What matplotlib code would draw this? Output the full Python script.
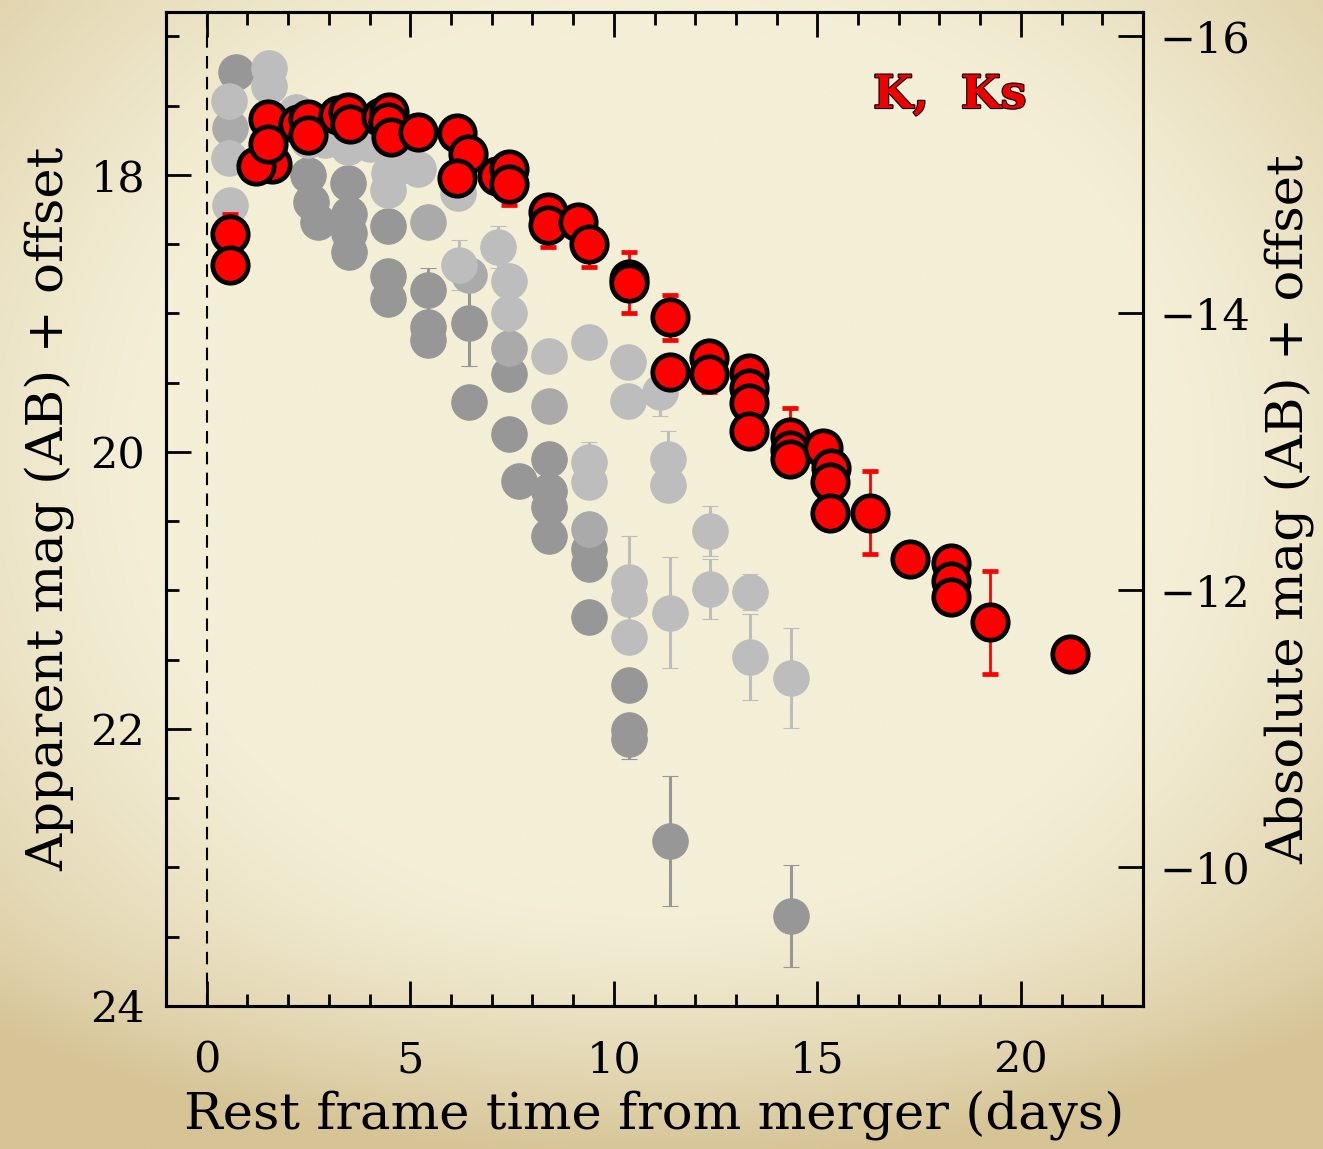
import numpy as np
import matplotlib
matplotlib.use("Agg")
import matplotlib.pyplot as plt
from matplotlib.ticker import MultipleLocator, FixedLocator
import matplotlib.patheffects as pe

# ---------------- data ----------------
ABS_OFFSET = 33.0  # absolute = apparent - offset

# K / Ks band (red)
t_K = [1.60, 0.57, 0.57, 1.22, 1.51, 1.51, 2.24, 2.49, 2.49, 3.22, 3.47, 3.51,
       4.28, 4.48, 4.45, 4.53, 5.18, 6.16, 6.41, 6.16, 7.12, 7.43, 7.42, 8.38,
       8.38, 9.13, 9.38, 10.37, 10.37, 11.38, 11.37, 12.34, 12.34, 13.31, 13.31,
       13.31, 13.31, 14.32, 14.32, 14.32, 15.13, 15.33, 15.30, 15.30, 16.29,
       17.28, 18.28, 18.28, 18.28, 19.25, 21.21]
m_K = [17.92, 18.43, 18.65, 17.94, 17.60, 17.78, 17.63, 17.60, 17.71, 17.57, 17.55, 17.63,
       17.58, 17.55, 17.62, 17.73, 17.69, 17.70, 17.85, 18.02, 18.01, 17.96, 18.07, 18.27,
       18.36, 18.34, 18.50, 18.75, 18.78, 19.03, 19.42, 19.32, 19.44, 19.43, 19.54,
       19.65, 19.85, 19.89, 19.99, 20.05, 19.97, 20.12, 20.22, 20.44, 20.44,
       20.77, 20.80, 20.93, 21.05, 21.23, 21.46]
e_K = [0.12, 0.15, 0.08, 0.08, 0.06, 0.06, 0.06, 0.06, 0.06, 0.06, 0.06, 0.06,
       0.06, 0.06, 0.06, 0.06, 0.06, 0.06, 0.06, 0.06, 0.08, 0.08, 0.15, 0.08,
       0.16, 0.08, 0.165, 0.10, 0.22, 0.16, 0.08, 0.08, 0.13, 0.08, 0.08,
       0.08, 0.08, 0.21, 0.08, 0.08, 0.08, 0.08, 0.08, 0.08, 0.30,
       0.08, 0.08, 0.08, 0.08, 0.37, 0.06]

# other bands, light grey
t_light = [0.54, 0.54, 0.56, 1.52, 1.52, 2.20, 2.50, 2.90, 3.47, 4.00, 4.45, 4.48,
           4.77, 5.19, 6.17, 6.19, 7.15, 7.43, 7.43, 8.40, 9.38, 10.36, 10.36, 11.14,
           9.38, 9.38, 11.33, 11.33, 10.38, 10.38, 10.38, 11.38, 12.37, 12.37,
           13.34, 13.34, 14.35]
m_light = [17.47, 17.88, 18.22, 17.23, 17.36, 17.55, 17.75, 17.75, 17.80, 17.78, 18.11, 17.99,
           17.94, 17.96, 18.13, 18.65, 18.52, 18.77, 19.00, 19.31, 19.21, 19.35, 19.63, 19.57,
           20.07, 20.22, 20.05, 20.24, 20.94, 21.06, 21.34, 21.16, 20.57, 20.99,
           21.01, 21.48, 21.63]
e_light = [0.05, 0.05, 0.09, 0.05, 0.05, 0.05, 0.05, 0.05, 0.05, 0.05, 0.05, 0.05,
           0.05, 0.05, 0.05, 0.18, 0.15, 0.05, 0.05, 0.05, 0.05, 0.05, 0.05, 0.17,
           0.14, 0.05, 0.20, 0.05, 0.33, 0.05, 0.05, 0.40, 0.18, 0.22,
           0.13, 0.31, 0.36]

# other bands, mid grey
t_mid = [0.56, 5.43, 6.44, 7.43, 8.40, 9.38]
m_mid = [17.66, 18.34, 18.72, 19.25, 19.67, 20.56]
e_mid = [0.05, 0.05, 0.05, 0.05, 0.05, 0.05]

# other bands, dark grey
t_dark = [0.73, 2.50, 2.57, 2.74, 3.47, 3.50, 3.50, 3.50, 4.45, 4.45, 4.45, 5.43,
          5.43, 5.43, 6.44, 6.44, 7.43, 7.43, 7.67, 8.40, 8.40, 8.40, 8.40, 9.38,
          9.38, 9.38, 10.38, 10.38, 10.38, 11.38, 14.35]
m_dark = [17.26, 18.00, 18.20, 18.34, 18.06, 18.28, 18.42, 18.56, 18.37, 18.73, 18.90, 18.83,
          19.10, 19.19, 19.07, 19.64, 19.44, 19.87, 20.21, 20.05, 20.28, 20.40, 20.61, 20.70,
          20.81, 21.19, 21.68, 22.01, 22.07, 22.81, 23.35]
e_dark = [0.05, 0.05, 0.05, 0.05, 0.05, 0.05, 0.05, 0.05, 0.05, 0.05, 0.05, 0.16,
          0.05, 0.05, 0.31, 0.05, 0.05, 0.05, 0.05, 0.05, 0.05, 0.05, 0.05, 0.05,
          0.05, 0.05, 0.05, 0.05, 0.15, 0.47, 0.37]

band_label = "K,  Ks"
xlabel = "Rest frame time from merger (days)"
ylabel_left = "Apparent mag (AB) + offset"
ylabel_right = "Absolute mag (AB) + offset"

# ---------------- figure ----------------
W, H = 1323, 1149
DPI = 100
fig = plt.figure(figsize=(W / DPI, H / DPI), dpi=DPI)

# parchment background (decoration)
bg = fig.add_axes([0, 0, 1, 1], zorder=-10)
ny, nx = 240, 276
yy, xx = np.mgrid[0:1:ny * 1j, 0:1:nx * 1j]
r = np.sqrt(((xx - 0.5) / 0.62) ** 2 + ((yy - 0.40) / 0.62) ** 2)
w = np.clip((r - 0.62) / 0.6, 0, 1) ** 1.3
w = np.clip(w + 0.45 * np.clip((yy - 0.78) / 0.22, 0, 1) ** 1.6, 0, 1)
c_in = np.array([244, 239, 215]) / 255.0
c_out = np.array([214, 196, 150]) / 255.0
img = c_in[None, None, :] * (1 - w[..., None]) + c_out[None, None, :] * w[..., None]
bg.imshow(img, extent=[0, 1, 0, 1], aspect='auto', origin='upper', interpolation='bicubic')
bg.set_axis_off()

ax = fig.add_axes([166 / W, 1 - 1006 / H, (1143 - 166) / W, (1006 - 12) / H])
ax.set_facecolor('none')

serif = ['DejaVu Serif']

ax.axvline(0, color='black', lw=1.5, ls=(0, (6, 4)), zorder=1)

ms = 25.5
for t, m, e, col in [(t_dark, m_dark, e_dark, '#979797'),
                     (t_mid, m_mid, e_mid, '#aaaaaa'),
                     (t_light, m_light, e_light, '#bdbdbd')]:
    ax.errorbar(t, m, yerr=e, fmt='o', ms=ms, mfc=col, mec=col, mew=0.8,
                ecolor=col, elinewidth=2.2, capsize=6, capthick=2.2, zorder=2)

ax.errorbar(t_K, m_K, yerr=e_K, fmt='o', ms=ms, mfc='#ff0000', mec='black', mew=3.4,
            ecolor='#ff0000', elinewidth=2.0, capsize=6, capthick=2.0, zorder=5)

ax.set_xlim(-1, 23)
ax.set_ylim(24, 16.825)

ax.xaxis.set_major_locator(FixedLocator([0, 5, 10, 15, 20]))
ax.xaxis.set_minor_locator(MultipleLocator(1))
ax.yaxis.set_major_locator(MultipleLocator(2))
ax.yaxis.set_minor_locator(MultipleLocator(0.5))

ax.tick_params(which='both', direction='in', top=True, right=True, width=2, color='black')
ax.tick_params(which='major', length=18)
ax.tick_params(which='minor', length=9)
ax.tick_params(axis='x', which='major', pad=24, labelsize=31)
ax.tick_params(axis='y', which='major', pad=15, labelsize=31)
for lab in ax.get_xticklabels() + ax.get_yticklabels():
    lab.set_family(serif)

for s in ax.spines.values():
    s.set_linewidth(2.2)

ax.set_xlabel(xlabel, fontsize=37, family=serif, labelpad=6)
ax.set_ylabel(ylabel_left, fontsize=37, family=serif, labelpad=12)

ax2 = ax.twinx()
ax2.set_ylim(24 - ABS_OFFSET, 16.825 - ABS_OFFSET)
ax2.yaxis.set_major_locator(FixedLocator([-16, -14, -12, -10]))
ax2.yaxis.set_minor_locator(FixedLocator([]))
ax2.tick_params(which='major', direction='in', length=18, width=2, pad=12, labelsize=31)
for lab in ax2.get_yticklabels():
    lab.set_family(serif)
ax2.set_ylabel(ylabel_right, fontsize=37, family=serif, labelpad=10)
for s in ax2.spines.values():
    s.set_linewidth(2.2)

ax.text(0.881, 0.9165, band_label, transform=ax.transAxes, ha='right', va='center',
        fontsize=33, fontweight='bold', family=serif, color='#ee0000',
        path_effects=[pe.Stroke(linewidth=1.6, foreground='black'), pe.Normal()], zorder=6)

fig.savefig('out.png', dpi=DPI)
